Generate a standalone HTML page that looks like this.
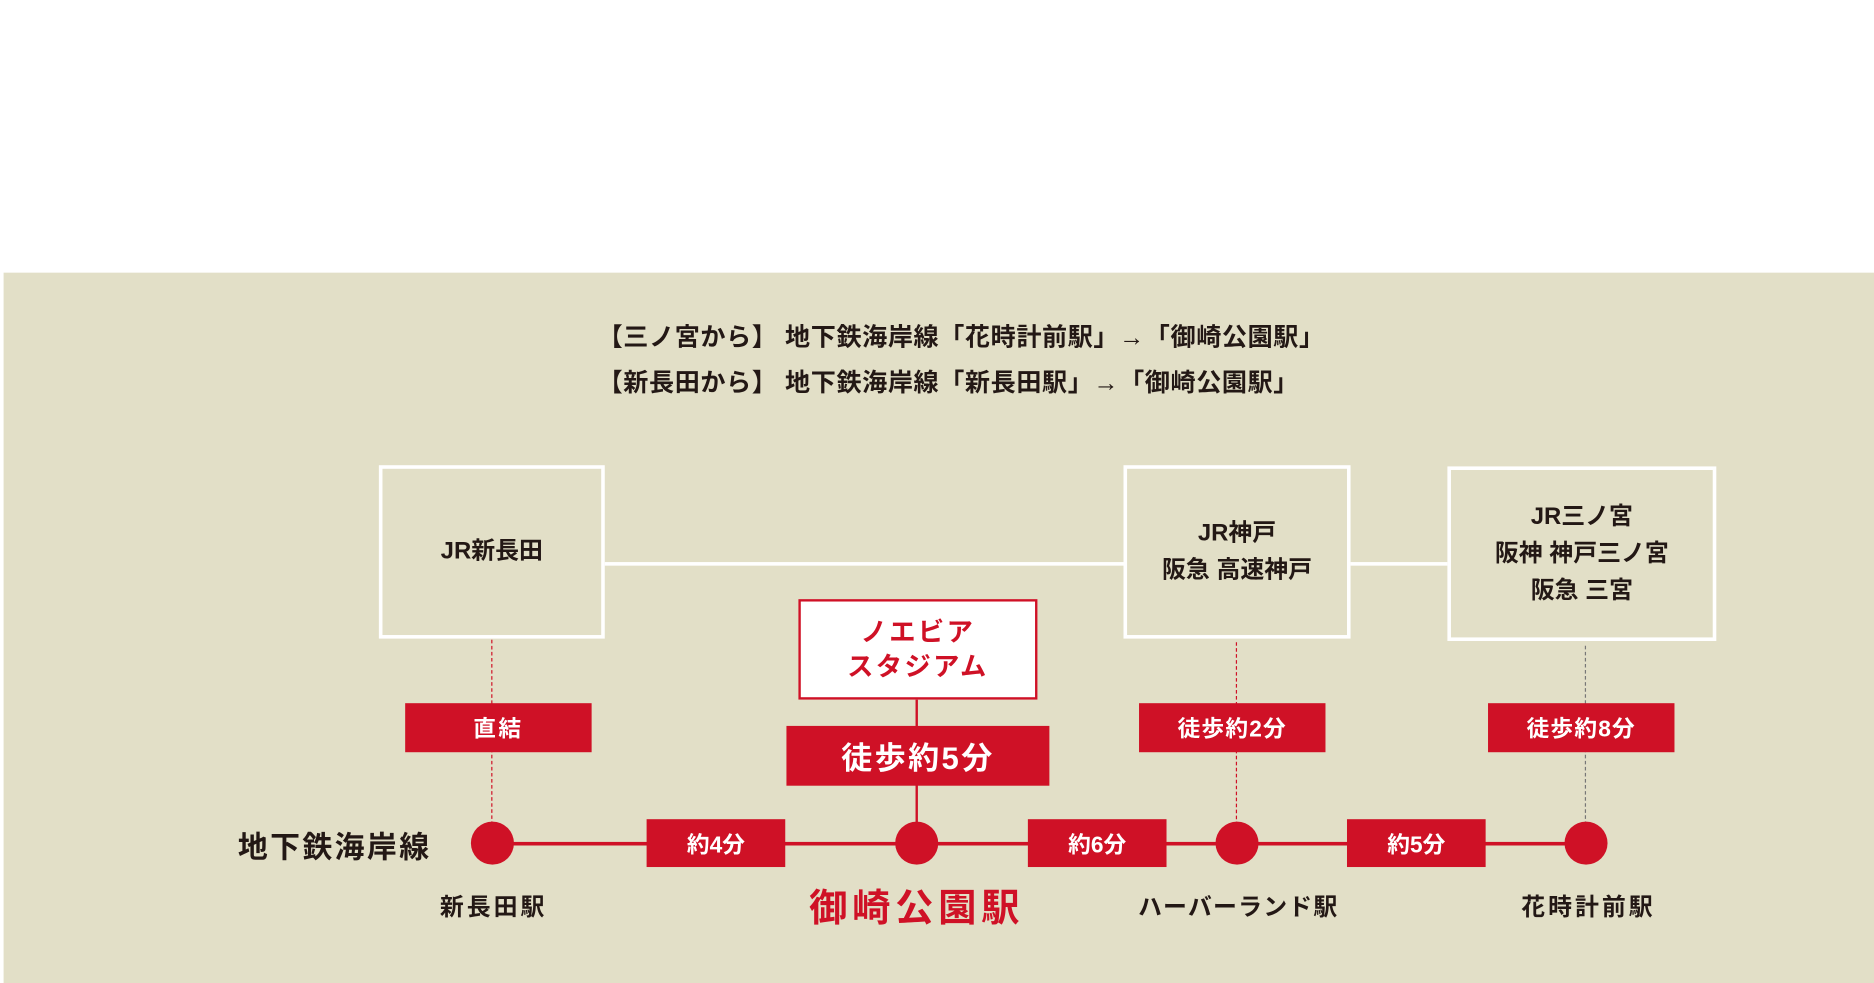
<!DOCTYPE html>
<html><head><meta charset="utf-8"><style>
html,body{margin:0;padding:0;width:1874px;height:983px;overflow:hidden;background:#fff}
#s{position:absolute;left:0;top:0;width:1568px;height:822px;transform:scale(1.1952,1.1959);transform-origin:0 0;font-family:"Liberation Sans","Noto Sans CJK JP",sans-serif;font-weight:bold;color:#231815}
.a{position:absolute;box-sizing:border-box}
.c{display:flex;align-items:center;justify-content:center;text-align:center}
.box{border:3px solid #fff;font-size:20px;line-height:31px}
.r{background:#cf1126;color:#fff}
.dot{position:absolute;width:36px;height:36px;border-radius:50%;background:#cf1126;margin:-18px 0 0 -18px;top:705px}
.lab{position:absolute;top:742px;width:240px;margin-left:-120px;text-align:center;font-size:20px;letter-spacing:2.5px}
</style></head><body><div id="s">
<div class="a" style="left:3px;top:228px;width:1565px;height:594px;background:#e2dfc7"></div>
<div class="a" style="left:500px;top:264px;font-size:21px;line-height:38px;white-space:nowrap;letter-spacing:0.5px">【三ノ宮から】 地下鉄海岸線「花時計前駅」→「御崎公園駅」<br>【新長田から】 地下鉄海岸線「新長田駅」→「御崎公園駅」</div>
<div class="a" style="left:506px;top:470px;width:434px;height:3px;background:#fff"></div>
<div class="a" style="left:1130px;top:470px;width:81px;height:3px;background:#fff"></div>
<div class="a box c" style="left:317px;top:389px;width:189px;height:145px">JR新長田</div>
<div class="a box c" style="left:940px;top:389px;width:190px;height:145px">JR神戸<br>阪急 高速神戸</div>
<div class="a box c" style="left:1211px;top:390px;width:225px;height:146px">JR三ノ宮<br>阪神 神戸三ノ宮<br>阪急 三宮</div>
<div class="a" style="left:411px;top:535px;height:170px;border-left:1px dashed #cf1126"></div>
<div class="a" style="left:1034px;top:537px;height:168px;border-left:1px dashed #cf1126"></div>
<div class="a" style="left:1326px;top:540px;height:165px;border-left:1px dashed #777"></div>
<div class="a" style="left:766px;top:585px;width:2px;height:120px;background:#cf1126"></div>
<div class="a" style="left:412px;top:704px;width:915px;height:3px;background:#cf1126"></div>
<div class="a c" style="left:668px;top:501px;width:200px;height:84px;background:#fff;border:2px solid #cf1126;color:#cf1126;font-size:22px;line-height:29px;letter-spacing:2px">ノエビア<br>スタジアム</div>
<div class="a r c" style="left:658px;top:607px;width:220px;height:50px;font-size:26px;letter-spacing:2px">徒歩約5分</div>
<div class="a r c" style="left:339px;top:588px;width:156px;height:41px;font-size:19px;letter-spacing:2px">直結</div>
<div class="a r c" style="left:953px;top:588px;width:156px;height:41px;font-size:19px;letter-spacing:1px">徒歩約2分</div>
<div class="a r c" style="left:1245px;top:588px;width:156px;height:41px;font-size:19px;letter-spacing:1px">徒歩約8分</div>
<div class="a r c" style="left:541px;top:685px;width:116px;height:40px;font-size:19px">約4分</div>
<div class="a r c" style="left:860px;top:685px;width:116px;height:40px;font-size:19px">約6分</div>
<div class="a r c" style="left:1127px;top:685px;width:116px;height:40px;font-size:19px">約5分</div>
<div class="dot" style="left:412px"></div><div class="dot" style="left:767px"></div><div class="dot" style="left:1035px"></div><div class="dot" style="left:1327px"></div>
<div class="a" style="left:199px;top:689px;font-size:25px;letter-spacing:2px;white-space:nowrap">地下鉄海岸線</div>
<div class="lab" style="left:413px">新長田駅</div>
<div class="lab" style="left:767px;top:734px;font-size:32px;color:#cf1126;letter-spacing:4px">御崎公園駅</div>
<div class="lab" style="left:1036px;letter-spacing:1px">ハーバーランド駅</div>
<div class="lab" style="left:1329px">花時計前駅</div>
</div></body></html>
